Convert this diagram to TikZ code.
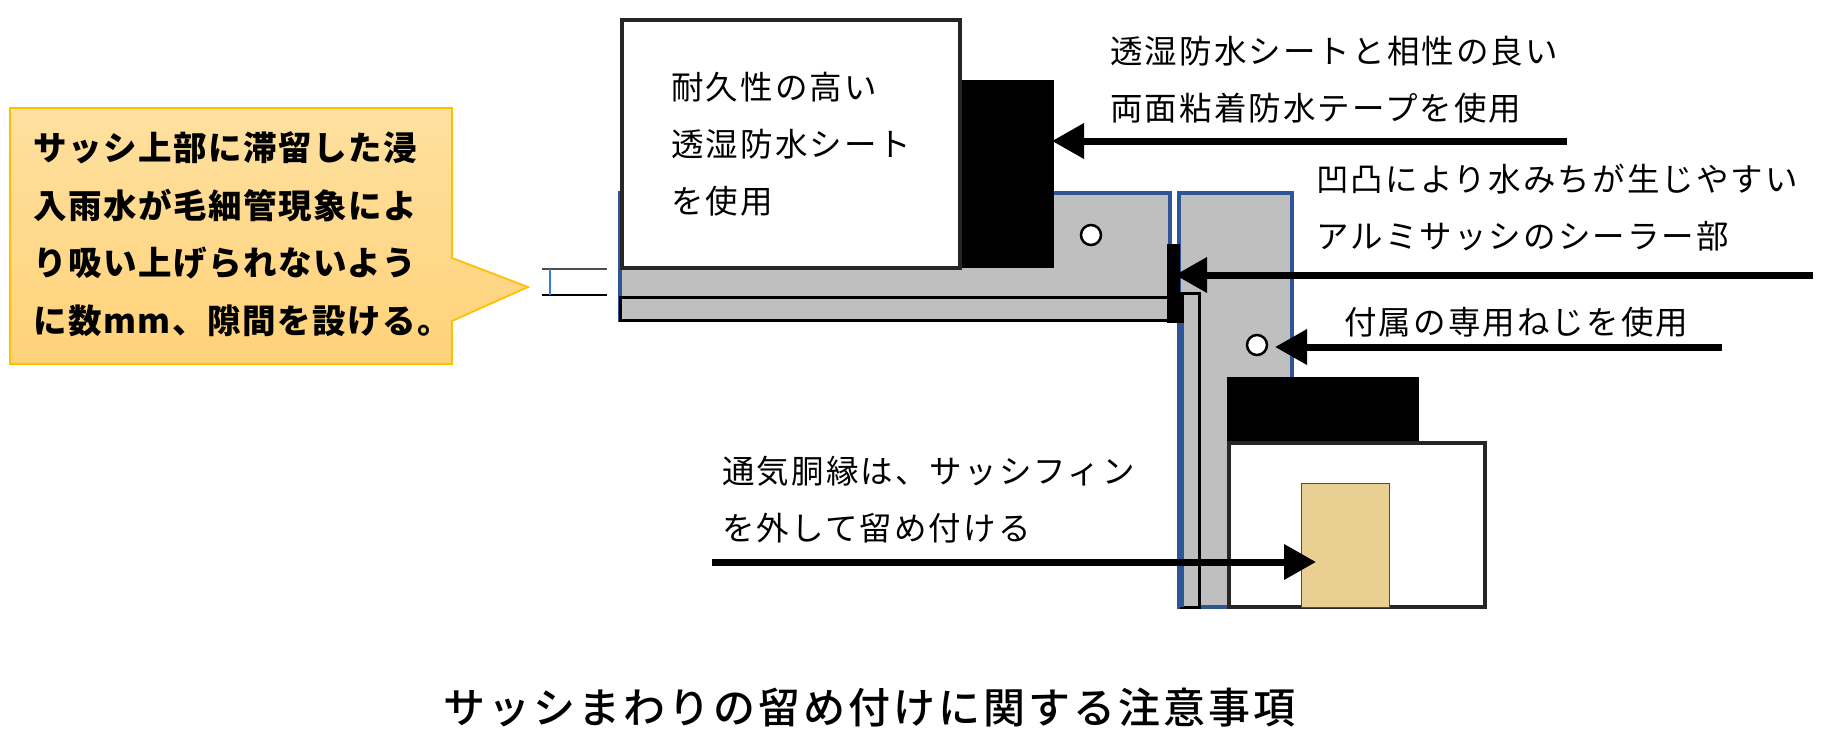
\documentclass[tikz,border=0pt]{standalone}
\usepackage{fontspec}
\setmainfont{Noto Sans CJK JP}
\newfontfamily\jpfont[LetterSpace=6.5]{Noto Sans CJK JP}
\newfontfamily\jpcall[LetterSpace=4.5]{Noto Sans CJK JP}
\newfontfamily\jptitle[LetterSpace=7.2]{Noto Sans CJK JP Medium}
\usetikzlibrary{arrows.meta,calc}
\definecolor{fingray}{HTML}{BFBFBF}
\definecolor{finblue}{HTML}{2F5597}
\definecolor{callline}{HTML}{FFC000}
\definecolor{calltop}{HTML}{FEE09F}
\definecolor{callbot}{HTML}{FFD279}
\definecolor{wood}{HTML}{E9CF91}
\tikzset{
  note/.style={anchor=west,inner sep=0pt,align=left,font=\jpfont\fontsize{32.5}{57}\selectfont},
  pointer/.style={line width=7pt,-{Triangle[length=32pt,width=34pt]}},
  sash/.style={fill=fingray,draw=finblue,line width=3.2pt},
  blackline/.style={draw=black,line width=3pt},
  sheet/.style={fill=white,draw=black!85,line width=3.2pt}
}
\begin{document}
\begin{tikzpicture}[x=1pt,y=-1pt]
  \useasboundingbox (0,0) rectangle (1836,752);
  %SASH
  \coordinate (S1) at (620,193);
  \coordinate (S2) at (1170,320);
  \coordinate (R1) at (1179,193);
  \coordinate (R2) at (1292,607);
  \draw[sash] (S1) rectangle (S2);
  \draw[sash] (R1) rectangle (R2);
  %FIN
  \coordinate (F1) at (620,297);
  \coordinate (F2) at (1170,320);
  \draw[blackline,fill=fingray] (F1) rectangle (F2);
  \coordinate (G1) at (1181,293);
  \coordinate (G2) at (1199,607);
  \draw[blackline,fill=fingray] (G1) rectangle (G2);
  \draw[finblue,line width=5pt] (G1 |- 0,323) -- (G1 |- G2);
  \fill (1167,244) rectangle (1180,323);
  \fill (1180,293) rectangle (1184,323);
  %SCREWS
  \coordinate (P1) at (1091,235);
  \coordinate (P2) at (1257,345);
  \draw[fill=white,line width=2.5pt] (P1) circle (10);
  \draw[fill=white,line width=2.5pt] (P2) circle (10);
  %TAPE
  \coordinate (T1) at (960,80);
  \coordinate (T2) at (1054,268);
  \coordinate (T3) at (1227,377);
  \coordinate (T4) at (1419,443);
  \fill (T1) rectangle (T2);
  \fill (T3) rectangle (T4);
  %SHEETS
  \draw[sheet] (622,20) rectangle (960,268);
  \draw[sheet] (1229,443) rectangle (1485,607);
  %BATTEN
  \coordinate (W1) at (1301,483);
  \coordinate (W2) at (1389,607);
  \draw[fill=wood,draw=black!70,line width=1pt] (W1) rectangle (W2);
  %GAP
  \draw[black!70,line width=1.5pt] (542,269) -- (607,269);
  \draw[line width=1.5pt] (542,295) -- (607,295);
  \draw[blue!50!cyan!60!gray,line width=1.5pt] (550,269) -- (550,295);
  %CALLOUT
  \coordinate (C1) at (10,108);
  \coordinate (C2) at (452,108);
  \coordinate (C3) at (452,258);
  \coordinate (C4) at (528,287);
  \coordinate (C5) at (452,321);
  \coordinate (C6) at (452,364);
  \coordinate (C7) at (10,364);
  \draw[callline,line width=1.8pt,top color=calltop,bottom color=callbot]
    (C1) -- (C2) -- (C3) -- (C4) -- (C5) -- (C6) -- (C7) -- cycle;
  \node[note,font=\jpcall\bfseries\fontsize{33.5}{57.5}\selectfont] (calltext) at (33,234)
    {サッシ上部に滞留した浸\\入雨水が毛細管現象によ\\り吸い上げられないよう\\に数mm、隙間を設ける。};
  %TEXTS
  \node[note] (sheettext) at (671,144) {耐久性の高い\\透湿防水シート\\を使用};
  \node[note] (tapetext) at (1110,80) {透湿防水シートと相性の良い\\両面粘着防水テープを使用};
  \node[note] (sealtext) at (1316,208) {凹凸により水みちが生じやすい\\アルミサッシのシーラー部};
  \node[note] (screwtext) at (1344,322) {付属の専用ねじを使用};
  \node[note] (battentext) at (722,500) {通気胴縁は、サッシフィン\\を外して留め付ける};
  \node[anchor=west,inner sep=0pt,font=\jptitle\fontsize{42}{48}\selectfont] (title) at (443,708)
    {サッシまわりの留め付けに関する注意事項};
  %ARROWS
  \coordinate (A1) at (1567,141);
  \coordinate (B1) at (1052,141);
  \coordinate (A2) at (1813,275);
  \coordinate (B2) at (1175,275);
  \coordinate (A3) at (1722,347);
  \coordinate (B3) at (1275,347);
  \coordinate (A4) at (712,562);
  \coordinate (B4) at (1316,562);
  \draw[pointer] (A1) -- (B1);
  \draw[pointer] (A2) -- (B2);
  \draw[pointer] (A3) -- (B3);
  \draw[pointer] (A4) -- (B4);
\end{tikzpicture}
\end{document}
